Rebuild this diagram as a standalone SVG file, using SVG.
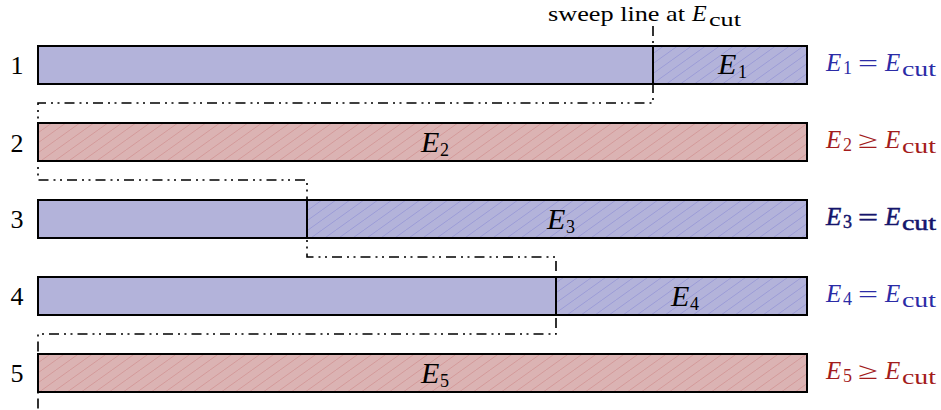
<svg xmlns="http://www.w3.org/2000/svg" width="941" height="410" viewBox="0 0 941 410">
<style>
.bb{fill:#b3b3da;}
.rb{fill:#dbb3b3;}
.out{fill:none;stroke:#000;stroke-width:2;}
.div{stroke:#000;stroke-width:2;}
text{font-family:"Liberation Serif",serif;fill:#000;}
.num{font-size:26px;text-anchor:middle;}
.e{font-size:30px;font-style:italic;}
.es{font-size:18px;}
.le{font-size:25px;font-style:italic;}
.ls{font-size:18px;}
.lo{font-size:24px;}
.lc{font-size:21px;}
.blue{fill:#2b2ba6;}
.red{fill:#a31c1c;}
.navy{fill:#15156c;stroke:#15156c;stroke-width:0.5;}
.sweep{fill:none;stroke:#000;stroke-width:1.6;stroke-dasharray:10 5 2 4.5 2 5;}
</style>
<defs>
<pattern id="hb" patternUnits="userSpaceOnUse" width="14" height="10">
<path d="M0,10 L14,0 M-7,5 L0,0 M14,10 L21,5" stroke="#9c9cd6" stroke-width="1"/>
</pattern>
<pattern id="hr" patternUnits="userSpaceOnUse" width="14" height="10">
<path d="M0,10 L14,0 M-7,5 L0,0 M14,10 L21,5" stroke="#d39a9a" stroke-width="1"/>
</pattern>
</defs>
<g id="row1">
<rect class="bb" x="38" y="46" width="769" height="38"/>
<rect fill="url(#hb)" x="653" y="46" width="154" height="38"/>
<rect class="out" x="38" y="46" width="769" height="38"/>
<line class="div" x1="653" y1="46" x2="653" y2="84"/>
<text class="num" x="17" y="74">1</text>
<text class="e" x="718" y="74">E</text><text class="es" x="738" y="78">1</text>
<text class="le blue" x="826" y="71">E</text><text class="ls blue" x="843" y="74">1</text><text class="lo blue" x="858" y="71" textLength="20" lengthAdjust="spacingAndGlyphs">=</text><text class="le blue" x="885" y="71">E</text><text class="lc blue" x="902" y="76" textLength="34" lengthAdjust="spacingAndGlyphs">cut</text>
</g>
<g id="row2">
<rect class="rb" x="38" y="123" width="769" height="38"/>
<rect fill="url(#hr)" x="38" y="123" width="769" height="38"/>
<rect class="out" x="38" y="123" width="769" height="38"/>
<text class="num" x="17" y="152">2</text>
<text class="e" x="421" y="152">E</text><text class="es" x="440" y="156">2</text>
<text class="le red" x="826" y="148">E</text><text class="ls red" x="843" y="151">2</text><text class="lo red" x="858" y="148" textLength="20" lengthAdjust="spacingAndGlyphs">≥</text><text class="le red" x="885" y="148">E</text><text class="lc red" x="902" y="153" textLength="34" lengthAdjust="spacingAndGlyphs">cut</text>
</g>
<g id="row3">
<rect class="bb" x="38" y="200" width="769" height="38"/>
<rect fill="url(#hb)" x="307" y="200" width="500" height="38"/>
<rect class="out" x="38" y="200" width="769" height="38"/>
<line class="div" x1="307" y1="200" x2="307" y2="238"/>
<text class="num" x="17" y="228">3</text>
<text class="e" x="547" y="229">E</text><text class="es" x="566" y="233">3</text>
<text class="le navy" x="826" y="225">E</text><text class="ls navy" x="843" y="228">3</text><text class="lo navy" x="858" y="225" textLength="20" lengthAdjust="spacingAndGlyphs">=</text><text class="le navy" x="885" y="225">E</text><text class="lc navy" x="902" y="230" textLength="34" lengthAdjust="spacingAndGlyphs">cut</text>
</g>
<g id="row4">
<rect class="bb" x="38" y="277" width="769" height="38"/>
<rect fill="url(#hb)" x="556" y="277" width="251" height="38"/>
<rect class="out" x="38" y="277" width="769" height="38"/>
<line class="div" x1="556" y1="277" x2="556" y2="315"/>
<text class="num" x="17" y="305">4</text>
<text class="e" x="671" y="306">E</text><text class="es" x="690" y="310">4</text>
<text class="le blue" x="826" y="302">E</text><text class="ls blue" x="843" y="305">4</text><text class="lo blue" x="858" y="302" textLength="20" lengthAdjust="spacingAndGlyphs">=</text><text class="le blue" x="885" y="302">E</text><text class="lc blue" x="902" y="307" textLength="34" lengthAdjust="spacingAndGlyphs">cut</text>
</g>
<g id="row5">
<rect class="rb" x="38" y="354" width="769" height="38"/>
<rect fill="url(#hr)" x="38" y="354" width="769" height="38"/>
<rect class="out" x="38" y="354" width="769" height="38"/>
<text class="num" x="17" y="382">5</text>
<text class="e" x="421" y="383">E</text><text class="es" x="440" y="387">5</text>
<text class="le red" x="826" y="379">E</text><text class="ls red" x="843" y="382">5</text><text class="lo red" x="858" y="379" textLength="20" lengthAdjust="spacingAndGlyphs">≥</text><text class="le red" x="885" y="379">E</text><text class="lc red" x="902" y="384" textLength="34" lengthAdjust="spacingAndGlyphs">cut</text>
</g>
<g id="connectors">
<path class="sweep" d="M653,26 V103 H38 V180 H307 V257 H556 V334 H38 V410"/>
</g>
<g id="caption">
<text font-size="22" x="548" y="21" textLength="137" lengthAdjust="spacingAndGlyphs">sweep line at</text>
<text font-size="24" font-style="italic" x="692" y="21">E</text>
<text font-size="19" x="709" y="26" textLength="32" lengthAdjust="spacingAndGlyphs">cut</text>
</g>
</svg>
